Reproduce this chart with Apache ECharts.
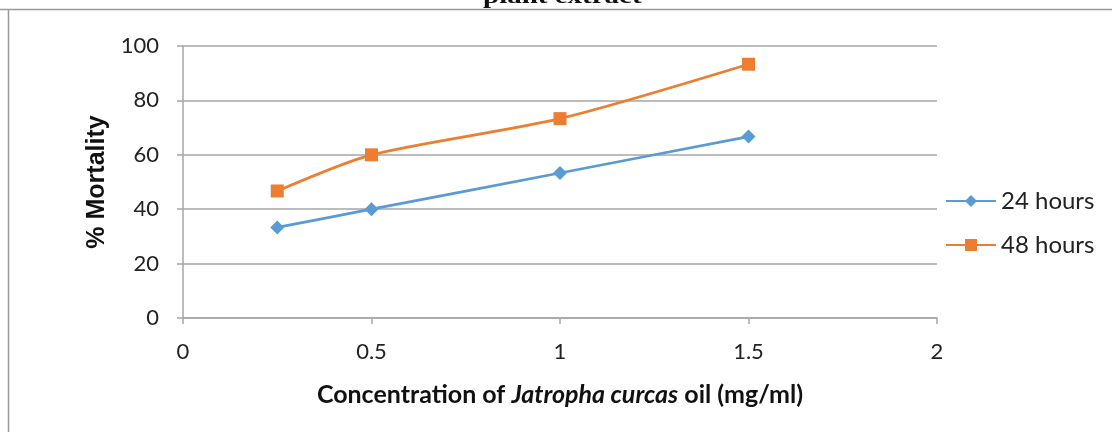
<!DOCTYPE html>
<html>
<head>
<meta charset="utf-8">
<script src="https://cdn.jsdelivr.net/npm/echarts@6/dist/echarts.min.js"></script>
<style>
  html, body { margin: 0; padding: 0; background: #fff; }
  #chart { width: 1112px; height: 432px; }
</style>
</head>
<body>
<div id="chart"></div>
<script>
// Concentration (mg/ml) and % mortality after each exposure time
const concentrations = [0.25, 0.5, 1, 1.5];
const mortality24h = [33.3, 40, 53.3, 66.7];
const mortality48h = [46.7, 60, 73.3, 93.3];
const seriesNames = ['24 hours', '48 hours'];

const pairs = (xs, ys) => xs.map((x, i) => [x, ys[i]]);

const chart = echarts.init(document.getElementById('chart'), null, { renderer: 'canvas' });

const labelFont = 'Lato, "Open Sans", sans-serif';

chart.setOption({
  animation: false,
  backgroundColor: '#ffffff',
  graphic: [
    // caption heading, partly above the frame
    {
      type: 'text', x: 483, y: -12, scaleX: 1.45, z: 10,
      style: {
        text: 'plant extract', x: 0, y: 0, verticalAlign: 'top', align: 'left',
        font: 'bold 20px "Liberation Serif", serif', fill: '#111'
      }
    },
    // frame edges
    { type: 'line', shape: { x1: 0, y1: 9.5, x2: 1112, y2: 9.5 }, style: { stroke: '#9a9a9a', lineWidth: 1.5 } },
    { type: 'line', shape: { x1: 8.5, y1: 9.5, x2: 8.5, y2: 432 }, style: { stroke: '#9a9a9a', lineWidth: 1.5 } }
  ],
  grid: { left: 183, right: 175, top: 46, bottom: 114 },
  legend: {
    orient: 'vertical',
    left: 940,
    top: 184,
    itemWidth: 50,
    itemHeight: 15,
    itemGap: 20,
    textStyle: { fontFamily: labelFont, fontSize: 24, color: '#222' },
    data: seriesNames
  },
  xAxis: {
    type: 'value',
    min: 0, max: 2, interval: 0.5,
    name: '{n|Concentration of }{i|Jatropha curcas}{n| oil (mg/ml)}',
    nameLocation: 'middle',
    nameGap: 64,
    nameTextStyle: {
      rich: {
        n: { fontFamily: labelFont, fontWeight: 'bold', fontSize: 25, color: '#111' },
        i: { fontFamily: labelFont, fontWeight: 'bold', fontStyle: 'italic', fontSize: 25, color: '#111' }
      }
    },
    axisLine: { lineStyle: { color: '#a6a6a6', width: 1.5 } },
    axisTick: { show: true, length: 6, lineStyle: { color: '#a6a6a6', width: 1.5 } },
    axisLabel: { fontFamily: labelFont, fontSize: 22, color: '#222', margin: 23 },
    splitLine: { show: false }
  },
  yAxis: {
    type: 'value',
    min: 0, max: 100, interval: 20,
    name: '% Mortality',
    nameLocation: 'middle',
    nameGap: 67,
    nameTextStyle: { fontFamily: '"Liberation Sans", Arial, sans-serif', fontWeight: 'bold', fontSize: 25, color: '#111' },
    axisLine: { show: true, lineStyle: { color: '#a6a6a6', width: 1.5 } },
    axisTick: { show: true, length: 6, lineStyle: { color: '#a6a6a6', width: 1.5 } },
    axisLabel: { fontFamily: labelFont, fontSize: 22, color: '#222', margin: 24 },
    splitLine: { show: true, lineStyle: { color: '#a6a6a6', width: 1.5 } }
  },
  series: [
    {
      name: seriesNames[0],
      type: 'line',
      smooth: 0.25,
      data: pairs(concentrations, mortality24h),
      symbol: 'diamond',
      symbolSize: 14,
      itemStyle: { color: '#5b9bd5' },
      lineStyle: { color: '#5b9bd5', width: 2.75 }
    },
    {
      name: seriesNames[1],
      type: 'line',
      smooth: 0.25,
      data: pairs(concentrations, mortality48h),
      symbol: 'rect',
      symbolSize: 13,
      itemStyle: { color: '#ed7d31' },
      lineStyle: { color: '#ed7d31', width: 2.75 }
    }
  ]
});
</script>
</body>
</html>
